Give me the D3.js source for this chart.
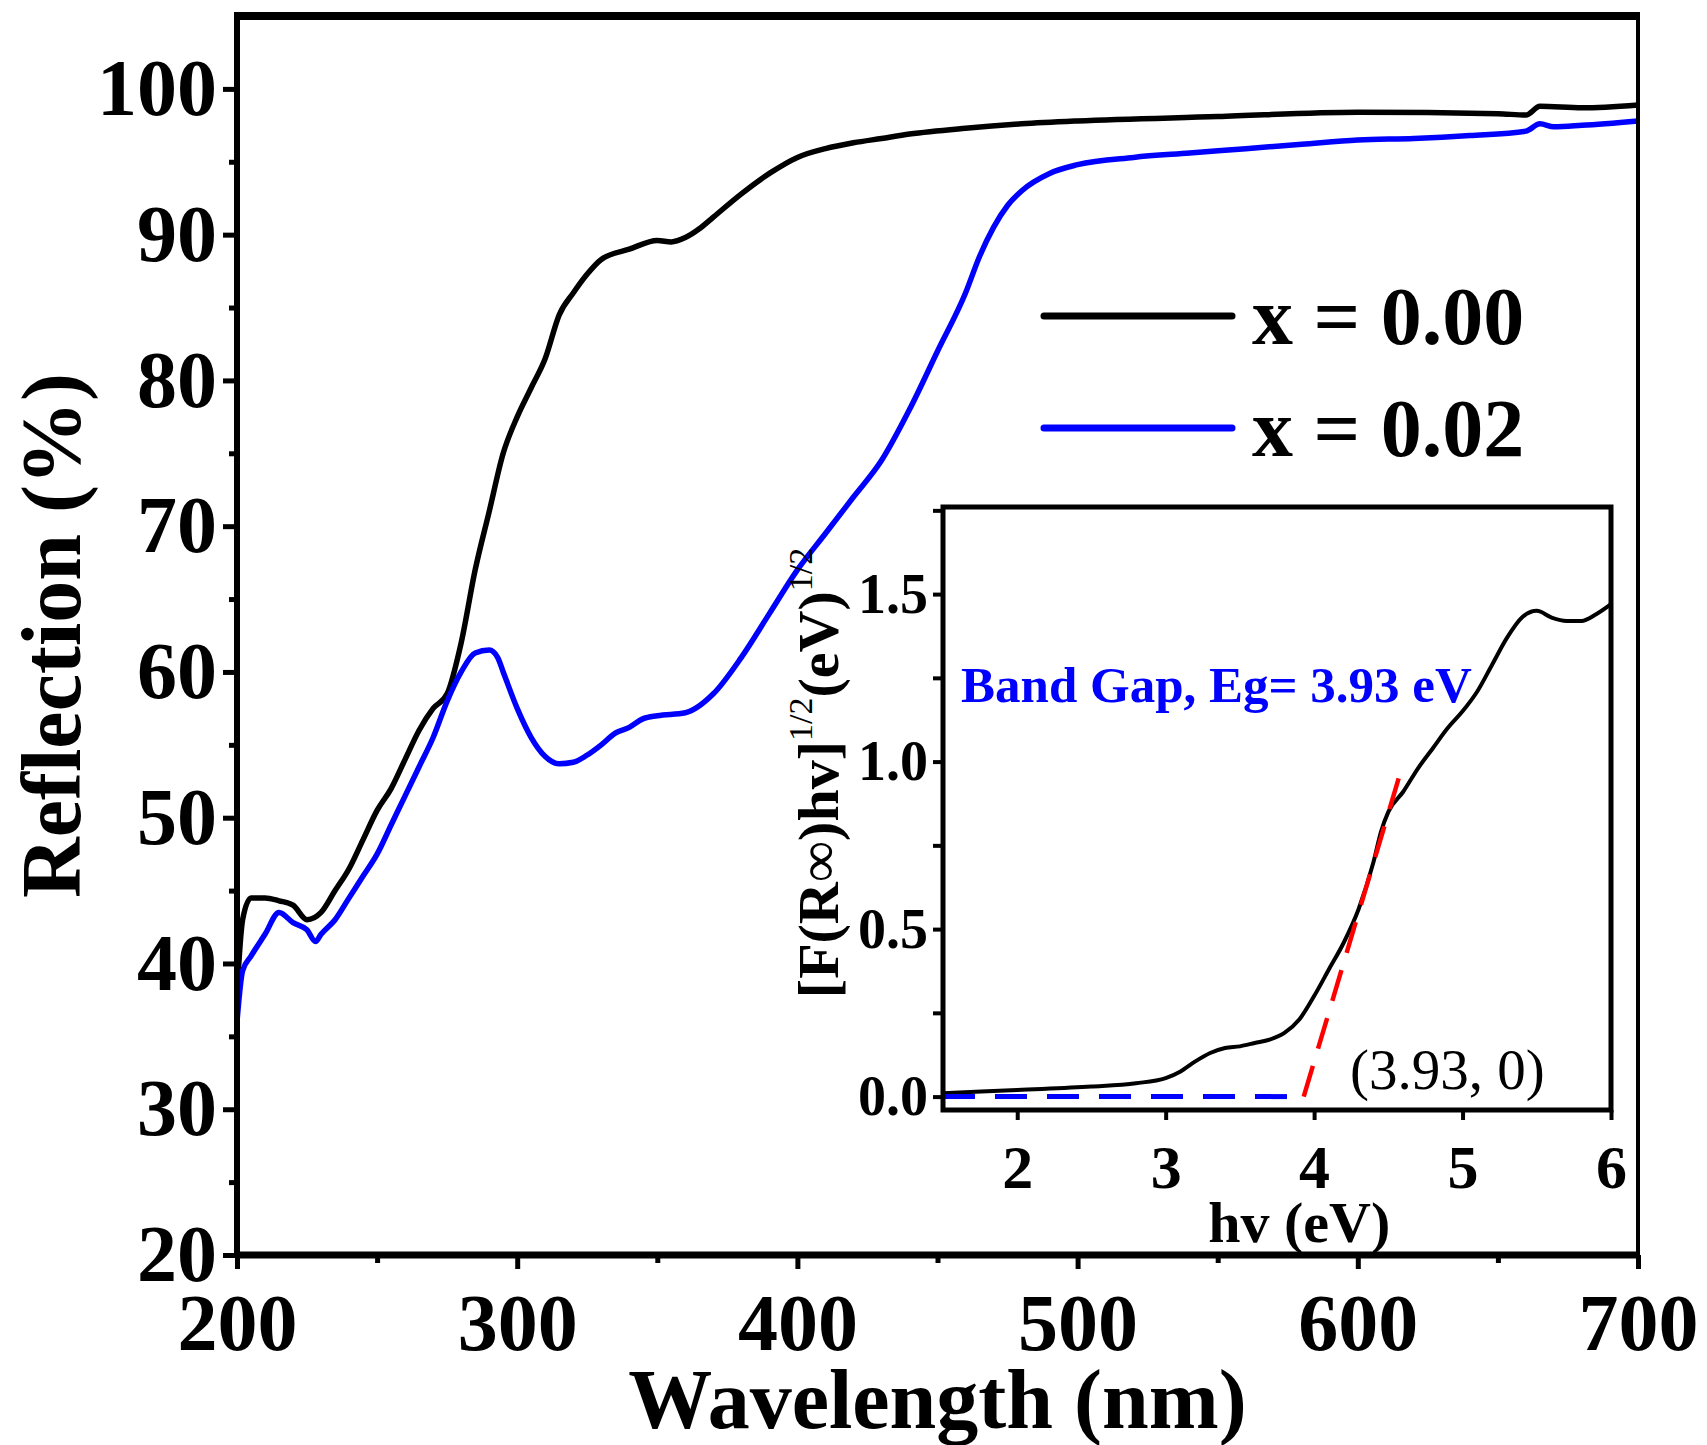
<!DOCTYPE html>
<html>
<head>
<meta charset="utf-8">
<script src="https://cdn.jsdelivr.net/npm/d3@7"></script>
<style>
  body { margin: 0; background: #fff; }
  text { font-family: "Liberation Serif", "Times New Roman", serif; }
</style>
</head>
<body>
<script>
// main chart data (wavelength nm, reflection %)
var wavelength0 = [200, 202, 205, 210, 215, 220, 225, 230, 235, 240, 245, 250, 255, 260, 265, 270, 275, 280, 285, 290, 295, 300, 305, 310, 315, 320, 325, 330, 340, 350, 355, 360, 365, 370, 380, 390, 400, 410, 420, 430, 440, 460, 480, 500, 550, 600, 650, 660, 665, 680, 700]
var reflect0 = [38, 43, 44.5, 44.5, 44.3, 44, 43, 43.5, 45, 46.5, 48.5, 50.5, 52, 54, 56, 57.5, 58.5, 62, 67, 71, 75, 77.5, 79.5, 81.5, 84.5, 86, 87.3, 88.3, 89, 89.6, 89.5, 89.8, 90.4, 91.2, 92.8, 94.2, 95.3, 95.9, 96.3, 96.6, 96.9, 97.3, 97.6, 97.8, 98.1, 98.4, 98.3, 98.2, 98.8, 98.7, 98.9]

var wavelength2 = [200, 202, 205, 210, 215, 220, 225, 228, 230, 235, 240, 245, 250, 255, 260, 265, 270, 275, 280, 285, 290, 293, 295, 300, 305, 310, 315, 320, 325, 330, 335, 340, 345, 350, 360, 370, 380, 390, 400, 410, 420, 430, 440, 450, 460, 465, 470, 475, 480, 490, 500, 520, 540, 560, 580, 600, 620, 640, 660, 665, 670, 680, 700]
var reflect2 = [36, 39.5, 40.5, 42, 43.5, 42.8, 42.3, 41.5, 42, 43, 44.5, 46, 47.5, 49.5, 51.5, 53.5, 55.5, 58, 60, 61.3, 61.5, 61, 60, 57.5, 55.5, 54.2, 53.7, 53.8, 54.3, 55, 55.8, 56.2, 56.8, 57, 57.2, 58.5, 61, 64, 67, 69.5, 72, 74.5, 78, 82, 86, 88.5, 90.5, 92, 93, 94.2, 94.8, 95.3, 95.6, 95.9, 96.2, 96.5, 96.6, 96.8, 97.1, 97.6, 97.4, 97.5, 97.8]

var seriesNames = ['x = 0.00', 'x = 0.02']
var seriesColors = ['#000000', '#0000ff']

var xTicks = [200, 300, 400, 500, 600, 700]
var yTicks = [20, 30, 40, 50, 60, 70, 80, 90, 100]

// inset data (hv eV, [F(R)hv]^1/2)
var energy = [1.5, 2.0, 2.5, 2.8, 3.0, 3.1, 3.2, 3.3, 3.4, 3.5, 3.6, 3.7, 3.8, 3.9, 4.0, 4.1, 4.2, 4.3, 4.4, 4.45, 4.5, 4.6, 4.7, 4.8, 4.9, 5.0, 5.1, 5.2, 5.3, 5.4, 5.5, 5.6, 5.7, 5.8, 5.9, 6.0]
var kubelka = [0.01, 0.02, 0.03, 0.04, 0.055, 0.075, 0.105, 0.13, 0.145, 0.15, 0.16, 0.17, 0.19, 0.23, 0.30, 0.38, 0.46, 0.56, 0.70, 0.79, 0.85, 0.91, 0.98, 1.04, 1.10, 1.15, 1.21, 1.29, 1.37, 1.43, 1.45, 1.43, 1.42, 1.42, 1.44, 1.47]
var bandGap = 3.93
var fitTop = [4.59, 0.98]
var insetXTicks = [2, 3, 4, 5, 6]
var insetYTicks = [0.0, 0.5, 1.0, 1.5]

var w = 1707
var h = 1445

var svg = d3.select('body')
  .append('svg')
  .attr('width', w)
  .attr('height', h)

// main plot area
var mLeft = 237, mRight = 1638, mTop = 16, mBottom = 1255

var xScale = d3.scaleLinear().domain([200, 700]).range([mLeft, mRight])
var yScale = d3.scaleLinear().domain([20, 105]).range([mBottom, mTop])

var font = '"Liberation Serif", "Times New Roman", serif'

// curves
var line = d3.line()
  .x(function (d) { return xScale(d[0]) })
  .y(function (d) { return yScale(d[1]) })
  .curve(d3.curveMonotoneX)

var series = [d3.zip(wavelength0, reflect0), d3.zip(wavelength2, reflect2)]
series.forEach(function (s, i) {
  svg.append('path')
    .datum(s)
    .attr('d', line)
    .attr('fill', 'none')
    .attr('stroke', seriesColors[i])
    .attr('stroke-width', 5.5)
    .attr('stroke-linejoin', 'round')
})

// frame
svg.append('line').attr('x1', mLeft - 3).attr('x2', mRight + 2).attr('y1', mTop).attr('y2', mTop)
  .attr('stroke', '#000').attr('stroke-width', 8)
svg.append('line').attr('x1', mRight).attr('x2', mRight).attr('y1', mTop).attr('y2', mBottom)
  .attr('stroke', '#000').attr('stroke-width', 4)

// axes
var xAxis = d3.axisBottom(xScale).tickValues(xTicks).tickSize(14).tickPadding(24).tickFormat(d3.format('d'))
var xMinor = d3.axisBottom(xScale).tickValues(d3.range(250, 700, 100)).tickSize(8).tickFormat('')
var yAxis = d3.axisLeft(yScale).tickValues(yTicks).tickSize(14).tickPadding(6).tickFormat(d3.format('d'))
var yMinor = d3.axisLeft(yScale).tickValues(d3.range(25, 105, 10)).tickSize(8).tickFormat('')

function styleAxis (g, size) {
  g.select('.domain').remove()
  g.selectAll('.tick line').attr('stroke', '#000').attr('stroke-width', 5)
  g.selectAll('text')
    .attr('font-family', font)
    .attr('font-weight', 'bold')
    .attr('font-size', size)
    .attr('fill', '#000')
}

svg.append('g').attr('transform', 'translate(0,' + mBottom + ')').call(xAxis).call(styleAxis, 80)
svg.append('g').attr('transform', 'translate(0,' + mBottom + ')').call(xMinor).call(styleAxis, 80)
svg.append('g').attr('transform', 'translate(' + mLeft + ',0)').call(yAxis).call(styleAxis, 80)
svg.append('g').attr('transform', 'translate(' + mLeft + ',0)').call(yMinor).call(styleAxis, 80)

svg.append('line').attr('x1', mLeft).attr('x2', mRight + 2).attr('y1', mBottom).attr('y2', mBottom)
  .attr('stroke', '#000').attr('stroke-width', 7)
svg.append('line').attr('x1', mLeft).attr('x2', mLeft).attr('y1', mTop - 4).attr('y2', mBottom + 3)
  .attr('stroke', '#000').attr('stroke-width', 6)

// axis titles
svg.append('text')
  .attr('x', (mLeft + mRight) / 2)
  .attr('y', 1428)
  .attr('text-anchor', 'middle')
  .attr('font-family', font)
  .attr('font-weight', 'bold')
  .attr('font-size', 84)
  .text('Wavelength (nm)')

svg.append('text')
  .attr('transform', 'translate(80,' + (mTop + mBottom) / 2 + ') rotate(-90)')
  .attr('text-anchor', 'middle')
  .attr('font-family', font)
  .attr('font-weight', 'bold')
  .attr('font-size', 84)
  .text('Reflection (%)')

// legend
seriesNames.forEach(function (name, i) {
  var ly = 316 + i * 112
  svg.append('line')
    .attr('x1', 1044).attr('x2', 1232).attr('y1', ly).attr('y2', ly)
    .attr('stroke', seriesColors[i]).attr('stroke-width', 7).attr('stroke-linecap', 'round')
  svg.append('text')
    .attr('x', 1252).attr('y', ly + 28)
    .attr('font-family', font)
    .attr('font-weight', 'bold')
    .attr('font-size', 82)
    .text(name)
})

// inset
var iLeft = 943, iRight = 1611, iTop = 507, iBottom = 1110
var ix = d3.scaleLinear().domain([1.5, 6]).range([iLeft, iRight])
var iy = d3.scaleLinear().domain([-0.04, 1.76]).range([iBottom, iTop])

svg.append('rect')
  .attr('x', iLeft).attr('y', iTop)
  .attr('width', iRight - iLeft).attr('height', iBottom - iTop)
  .attr('fill', '#fff')

var iLine = d3.line()
  .x(function (d) { return ix(d[0]) })
  .y(function (d) { return iy(d[1]) })
  .curve(d3.curveMonotoneX)

svg.append('path')
  .datum(d3.zip(energy, kubelka))
  .attr('d', iLine)
  .attr('fill', 'none')
  .attr('stroke', '#000')
  .attr('stroke-width', 4)

// extrapolation lines
svg.append('line')
  .attr('x1', ix(1.5)).attr('x2', ix(bandGap)).attr('y1', iy(0)).attr('y2', iy(0))
  .attr('stroke', '#0000ff').attr('stroke-width', 5).attr('stroke-dasharray', '32,20')
svg.append('line')
  .attr('x1', ix(bandGap)).attr('x2', ix(fitTop[0])).attr('y1', iy(0)).attr('y2', iy(fitTop[1]))
  .attr('stroke', '#ff0000').attr('stroke-width', 4.5).attr('stroke-dasharray', '32,18')

svg.append('rect')
  .attr('x', iLeft).attr('y', iTop)
  .attr('width', iRight - iLeft).attr('height', iBottom - iTop)
  .attr('fill', 'none').attr('stroke', '#000').attr('stroke-width', 5)

var ixAxis = d3.axisBottom(ix).tickValues(insetXTicks).tickSize(10).tickPadding(24).tickFormat(d3.format('d'))
var iyAxis = d3.axisLeft(iy).tickValues(insetYTicks).tickSize(10).tickPadding(5).tickFormat(d3.format('.1f'))
var iyMinor = d3.axisLeft(iy).tickValues([0.25, 0.75, 1.25, 1.75]).tickSize(10).tickFormat('')

function styleInset (g, size) {
  g.select('.domain').remove()
  g.selectAll('.tick line').attr('stroke', '#000').attr('stroke-width', 4)
  g.selectAll('text')
    .attr('font-family', font)
    .attr('font-weight', 'bold')
    .attr('font-size', size)
    .attr('fill', '#000')
}

svg.append('g').attr('transform', 'translate(0,' + iBottom + ')').call(ixAxis).call(styleInset, 62)
svg.append('g').attr('transform', 'translate(' + iLeft + ',0)').call(iyAxis).call(styleInset, 56)
svg.append('g').attr('transform', 'translate(' + iLeft + ',0)').call(iyMinor).call(styleInset, 56)

svg.append('text')
  .attr('x', ix(3.9)).attr('y', 1242)
  .attr('text-anchor', 'middle')
  .attr('font-family', font)
  .attr('font-weight', 'bold')
  .attr('font-size', 58)
  .text('hv (eV)')

var iyLabel = svg.append('text')
  .attr('transform', 'translate(838,773) rotate(-90)')
  .attr('text-anchor', 'middle')
  .attr('font-family', font)
  .attr('font-weight', 'bold')
  .attr('font-size', 58)
iyLabel.append('tspan').text('[F(R')
iyLabel.append('tspan').attr('font-weight', 'normal').text('\u221E')
iyLabel.append('tspan').text(')hv]')
iyLabel.append('tspan').attr('font-weight', 'normal').attr('font-size', 34).attr('dy', -26).text('1/2')
iyLabel.append('tspan').attr('dy', 26).text('(eV)')
iyLabel.append('tspan').attr('font-weight', 'normal').attr('font-size', 34).attr('dy', -26).text('1/2')

svg.append('text')
  .attr('x', 961).attr('y', 702)
  .attr('font-family', font)
  .attr('font-weight', 'bold')
  .attr('font-size', 51)
  .attr('fill', '#0000ff')
  .text('Band Gap, Eg= 3.93 eV')

svg.append('text')
  .attr('x', 1350).attr('y', 1089)
  .attr('font-family', font)
  .attr('font-size', 57)
  .attr('fill', '#000')
  .text('(' + bandGap + ', 0)')
</script>
</body>
</html>
